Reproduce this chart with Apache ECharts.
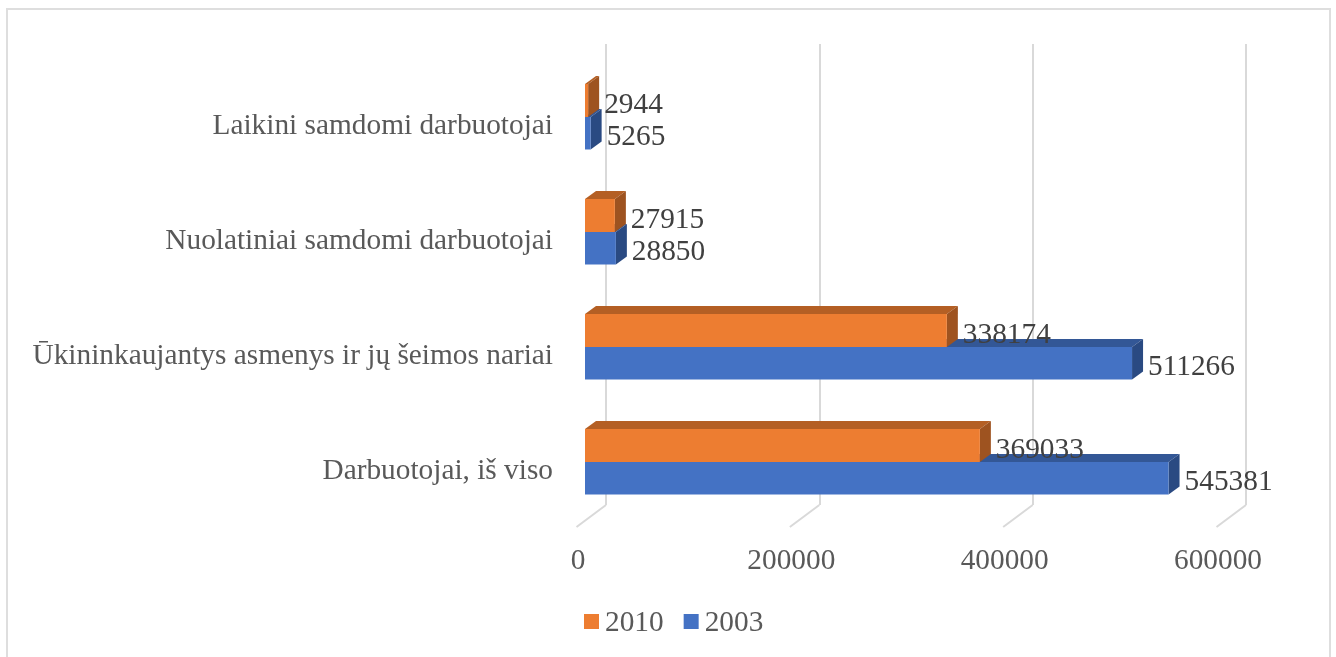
<!DOCTYPE html>
<html lang="lt">

<head>
  <meta charset="UTF-8">
  <title>Darbuotojai</title>
  <script src="https://cdn.jsdelivr.net/npm/echarts@6/dist/echarts.min.js"></script>
  <style>
    html, body { margin: 0; padding: 0; background: #fff; overflow: hidden; }
    #main { width: 1336px; height: 657px; }
  </style>
</head>

<body>
  <div id="main"></div>
  <script>
    var categories = ['Darbuotojai, iš viso', 'Ūkininkaujantys asmenys ir jų šeimos nariai', 'Nuolatiniai samdomi darbuotojai', 'Laikini samdomi darbuotojai']
    var values2010 = [369033, 338174, 27915, 2944]
    var values2003 = [545381, 511266, 28850, 5265]
    var ticks = [0, 200000, 400000, 600000]

    var FONT = '"Liberation Serif", "Times New Roman", serif'
    var FONT_SIZE = 29.33
    var mCharts = echarts.init(document.getElementById('main'))

    // 3D look: front rectangle, top face and side face for each bar
    function makeBar(front, top, side, yFrom, yTo) {
      return function (params, api) {
        var p = api.coord([api.value(0), api.value(1)])
        var x0 = api.coord([0, api.value(1)])[0]
        var x1 = p[0]
        var y0 = p[1] + yFrom
        var y1 = p[1] + yTo
        var dx = 11
        var dy = 8
        return {
          type: 'group',
          children: [
            { type: 'polygon', shape: { points: [[x0, y0], [x0 + dx, y0 - dy], [x1 + dx, y0 - dy], [x1, y0]] }, style: { fill: top } },
            { type: 'polygon', shape: { points: [[x1, y0], [x1 + dx, y0 - dy], [x1 + dx, y1 - dy], [x1, y1]] }, style: { fill: side } },
            { type: 'rect', shape: { x: x0, y: y0, width: x1 - x0, height: y1 - y0 }, style: { fill: front } },
            {
              type: 'text',
              style: {
                text: String(api.value(0)), x: x1 + 16, y: (y0 + y1) / 2 + 4.5,
                align: 'left', verticalAlign: 'middle',
                font: FONT_SIZE + 'px ' + FONT, fill: '#404040'
              }
            }
          ]
        }
      }
    }

    function toPairs(arr) {
      var out = []
      for (var i = 0; i < arr.length; i++) {
        out.push([arr[i], i])
      }
      return out
    }

    var option = {
      animation: false,
      backgroundColor: '#fff',
      graphic: [{
        type: 'rect', silent: true, z: -1,
        shape: { x: 7, y: 9, width: 1323, height: 800 },
        style: { fill: 'none', stroke: '#dedede', lineWidth: 2 }
      }],
      legend: {
        data: ['2010', '2003'],
        left: 584, top: 609, padding: 0,
        icon: 'rect', itemWidth: 15, itemHeight: 15, itemGap: 20,
        formatter: '{t|{name}}',
        textStyle: {
          rich: { t: { fontFamily: FONT, fontSize: FONT_SIZE, color: '#595959', padding: [4, 0, 0, 1] } }
        }
      },
      grid: [
        { left: 606, width: 640, top: 44, height: 461 },   // back wall
        { left: 585, width: 642, top: 59.5, height: 460 }, // bars
        { left: 578, width: 640, top: 520, height: 7 },    // floor edge, tick labels
        { left: 585, width: 642, top: 68.5, height: 460 }  // category labels sit a bit lower than the bars
      ],
      xAxis: [
        {
          gridIndex: 0, type: 'value', min: 0, max: 600000, interval: 200000,
          axisLabel: { show: false }, axisLine: { show: false }, axisTick: { show: false },
          splitLine: { lineStyle: { color: '#d9d9d9', width: 2 } }
        },
        {
          gridIndex: 1, type: 'value', min: 0, max: 600000, interval: 200000,
          axisLabel: { show: false }, axisLine: { show: false }, axisTick: { show: false }, splitLine: { show: false }
        },
        {
          gridIndex: 2, type: 'value', min: 0, max: 600000, interval: 200000,
          axisLine: { show: false }, axisTick: { show: false }, splitLine: { show: false },
          axisLabel: {
            fontFamily: FONT, fontSize: FONT_SIZE, color: '#595959', margin: 20,
            formatter: function (v) { return String(v) }
          }
        },
        { gridIndex: 3, type: 'value', min: 0, max: 600000, show: false }
      ],
      yAxis: [
        { gridIndex: 0, type: 'value', min: 0, max: 1, show: false },
        { gridIndex: 1, type: 'category', data: categories, show: false },
        { gridIndex: 2, type: 'value', min: 0, max: 1, show: false },
        {
          gridIndex: 3, type: 'category', data: categories,
          axisLine: { show: false }, axisTick: { show: false },
          axisLabel: { fontFamily: FONT, fontSize: FONT_SIZE, color: '#595959', margin: 32 }
        }
      ],
      series: [
        {
          // short diagonal strokes under the wall lines
          type: 'custom', xAxisIndex: 0, yAxisIndex: 0, silent: true, clip: false,
          data: ticks.map(function (t) { return [t, 0] }),
          renderItem: function (params, api) {
            var p = api.coord([api.value(0), api.value(1)])
            return {
              type: 'line',
              shape: { x1: p[0], y1: p[1], x2: p[0] - 29.5, y2: p[1] + 22 },
              style: { stroke: '#d9d9d9', lineWidth: 2 }
            }
          }
        },
        {
          name: '2003', type: 'custom', xAxisIndex: 1, yAxisIndex: 1, clip: false,
          itemStyle: { color: '#4472C4' },
          encode: { x: 0, y: 1 },
          data: toPairs(values2003),
          renderItem: makeBar('#4472C4', '#335796', '#2A4A82', 0, 32.5)
        },
        {
          name: '2010', type: 'custom', xAxisIndex: 1, yAxisIndex: 1, clip: false,
          itemStyle: { color: '#ED7D31' },
          encode: { x: 0, y: 1 },
          data: toPairs(values2010),
          renderItem: makeBar('#ED7D31', '#B45F24', '#9E5320', -33, 0)
        }
      ]
    }
    mCharts.setOption(option)
  </script>
</body>

</html>
